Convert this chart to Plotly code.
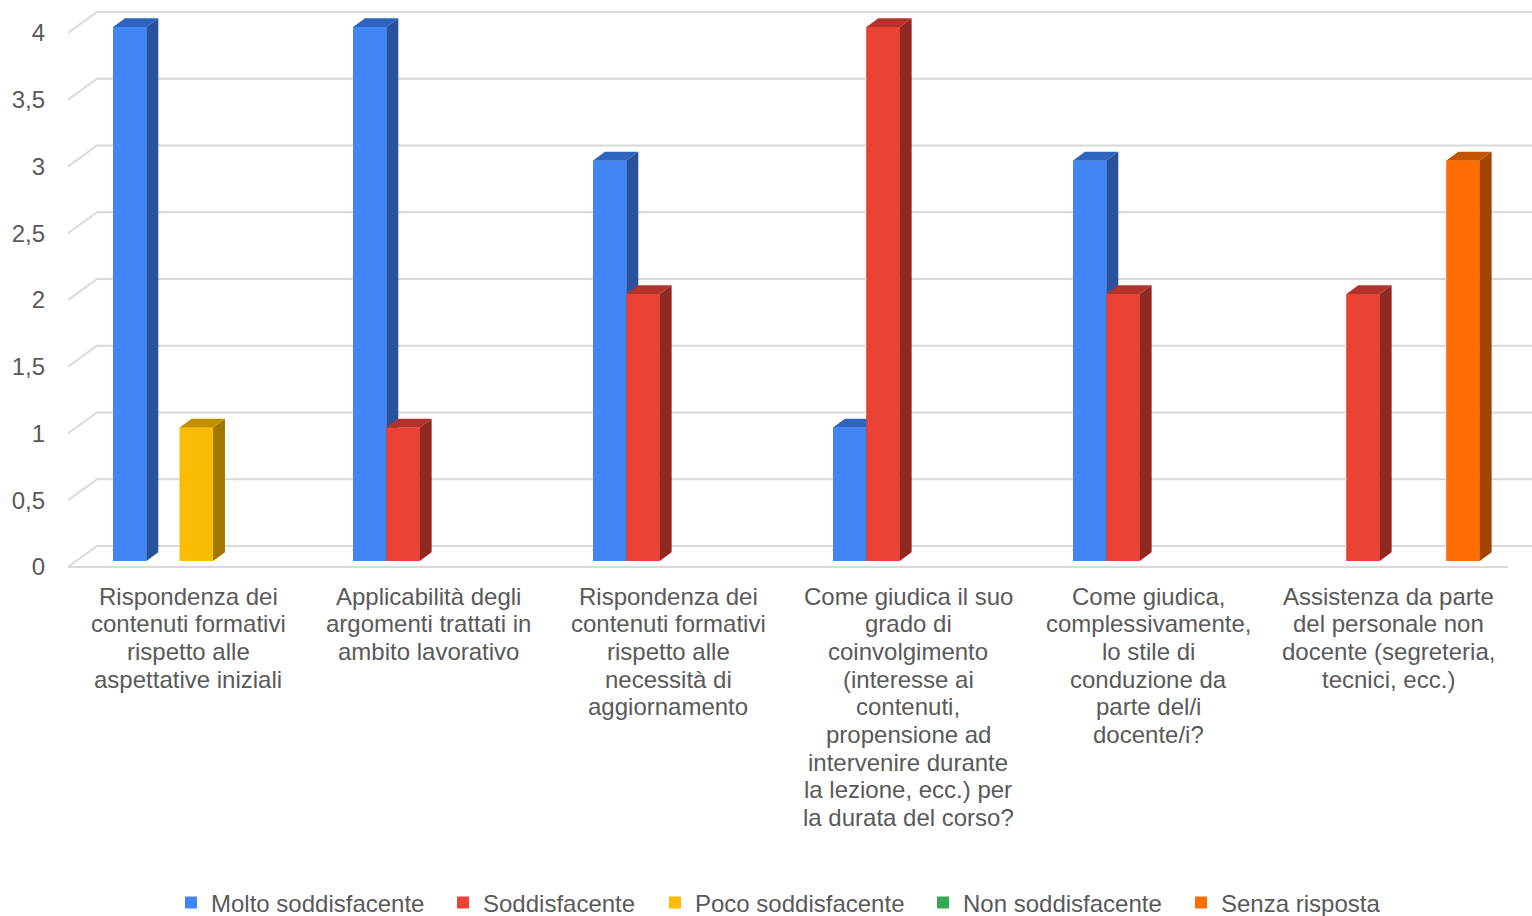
import plotly.graph_objects as go

# ---------------- data ----------------
categories = [
    "Rispondenza dei<br>contenuti formativi<br>rispetto alle<br>aspettative iniziali",
    "Applicabilità degli<br>argomenti trattati in<br>ambito lavorativo",
    "Rispondenza dei<br>contenuti formativi<br>rispetto alle<br>necessità di<br>aggiornamento",
    "Come giudica il suo<br>grado di<br>coinvolgimento<br>(interesse ai<br>contenuti,<br>propensione ad<br>intervenire durante<br>la lezione, ecc.) per<br>la durata del corso?",
    "Come giudica,<br>complessivamente,<br>lo stile di<br>conduzione da<br>parte del/i<br>docente/i?",
    "Assistenza da parte<br>del personale non<br>docente (segreteria,<br>tecnici, ecc.)",
]
series_names = ["Molto soddisfacente", "Soddisfacente", "Poco soddisfacente",
                "Non soddisfacente", "Senza risposta"]
molto = [4, 4, 3, 1, 3, 0]
soddisfacente = [0, 1, 2, 4, 2, 2]
poco = [1, 0, 0, 0, 0, 0]
non_sodd = [0, 0, 0, 0, 0, 0]
senza = [0, 0, 0, 0, 0, 3]
y_ticks = [0, 0.5, 1, 1.5, 2, 2.5, 3, 3.5, 4]

series_values = [molto, soddisfacente, poco, non_sodd, senza]

# ---------------- styles ----------------
front_colors = ["#4285F4", "#EA4335", "#FBBC04", "#34A853", "#FF6D01"]
top_colors = ["#2F63C0", "#B5322A", "#C29000", "#28823F", "#C45400"]
side_colors = ["#29529C", "#922822", "#A07800", "#1F6A33", "#A04500"]
TEXT = "#595959"
GRID = "#D9D9D9"
FONT = "Liberation Sans, Arial, sans-serif"

W_PX, H_PX = 1532, 916
LEFT = 68                 # plot left edge (px)
ZERO_PX = 567             # pixel row of value 0 on the front floor
PX_PER_CAT = 240.0
PX_PER_UNIT = 133.5
DEPTH_X = 29 / PX_PER_CAT          # full depth offset in data units
DEPTH_Y = 21 / PX_PER_UNIT
BAR_FRONT, BAR_BACK = 0.29, 0.70   # bar depth fraction
SLOT = 1 / 7.2                     # bar width in category units
LINE_H = 27.7                      # label line height (px)
FIRST_LINE = 29                    # px below zero row
LEGEND_TEXT_X = [212, 484, 696, 964, 1222]   # legend text start (px)
LEGEND_Y = 903

n = len(categories)
x_min = -0.5
x_max = x_min + (W_PX - LEFT) / PX_PER_CAT
y_min = -(H_PX - ZERO_PX) / PX_PER_UNIT
y_max = ZERO_PX / PX_PER_UNIT

fig = go.Figure()

# legend-bearing bars (front faces)
for j, (name, vals) in enumerate(zip(series_names, series_values)):
    off = -2.5 * SLOT + j * SLOT + BAR_FRONT * DEPTH_X
    fig.add_trace(go.Bar(
        x=list(range(n)), y=vals, base=BAR_FRONT * DEPTH_Y, offset=off, width=SLOT,
        name=name, marker=dict(color=front_colors[j], line=dict(width=0)),
        legend="legend" if j == 0 else f"legend{j + 1}",
        hoverinfo="skip"))

# gridlines (3D walls)
gx, gy = [], []
for t in y_ticks:
    gx += [x_min, x_min + DEPTH_X, x_max + 1, None]
    gy += [t, t + DEPTH_Y, t + DEPTH_Y, None]
gx += [x_min, n - 0.5, None]
gy += [0, 0, None]
fig.add_trace(go.Scatter(x=gx, y=gy, mode="lines", line=dict(color=GRID, width=2),
                         hoverinfo="skip", showlegend=False))

# 3D faces
ddx = (BAR_BACK - BAR_FRONT) * DEPTH_X
ddy = (BAR_BACK - BAR_FRONT) * DEPTH_Y
for j, vals in enumerate(series_values):
    fx, fy, sx, sy, tx, ty = [], [], [], [], [], []
    for i, v in enumerate(vals):
        if v <= 0:
            continue
        x0 = i - 2.5 * SLOT + j * SLOT + BAR_FRONT * DEPTH_X
        x1 = x0 + SLOT
        b = BAR_FRONT * DEPTH_Y
        fx += [x0, x1, x1, x0, x0, None]
        fy += [b, b, b + v, b + v, b, None]
        sx += [x1, x1 + ddx, x1 + ddx, x1, x1, None]
        sy += [b, b + ddy, b + ddy + v, b + v, b, None]
        tx += [x0, x1, x1 + ddx, x0 + ddx, x0, None]
        ty += [b + v, b + v, b + v + ddy, b + v + ddy, b + v, None]
    for xs, ys, col in ((fx, fy, front_colors[j]), (sx, sy, side_colors[j]), (tx, ty, top_colors[j])):
        if xs:
            fig.add_trace(go.Scatter(x=xs, y=ys, mode="lines", fill="toself", fillcolor=col,
                                     line=dict(width=0, color=col), hoverinfo="skip",
                                     showlegend=False))

# category labels
for i, cat in enumerate(categories):
    for k, line in enumerate(cat.split("<br>")):
        fig.add_annotation(x=i, y=-(FIRST_LINE + k * LINE_H) / PX_PER_UNIT, xref="x", yref="y",
                           text=line, showarrow=False, xanchor="center", yanchor="middle",
                           font=dict(family=FONT, size=24, color=TEXT))

legends = {}
for j, tx in enumerate(LEGEND_TEXT_X):
    key = "legend" if j == 0 else f"legend{j + 1}"
    legends[key] = dict(orientation="h", x=(tx - 41 - LEFT) / (W_PX - LEFT), xref="paper",
                        xanchor="left", y=1 - LEGEND_Y / H_PX, yref="paper", yanchor="middle",
                        font=dict(family=FONT, size=24, color=TEXT), itemclick=False,
                        bgcolor="rgba(0,0,0,0)")

fig.update_layout(
    width=W_PX, height=H_PX,
    margin=dict(l=LEFT, r=0, t=0, b=0, autoexpand=False),
    paper_bgcolor="white", plot_bgcolor="white",
    separators=",.",
    font=dict(family=FONT, color=TEXT, size=24),
    xaxis=dict(range=[x_min, x_max], showgrid=False, zeroline=False, showticklabels=False,
               showline=False, fixedrange=True),
    yaxis=dict(range=[y_min, y_max], showgrid=False, zeroline=False, tickvals=y_ticks,
               ticks="", ticklabelstandoff=22, showline=False,
               tickfont=dict(family=FONT, size=24, color=TEXT), fixedrange=True),
    showlegend=True,
    **legends,
)

fig.write_html("out.html", config={"displayModeBar": False},
               post_script="document.body.style.margin='0';document.body.style.overflow='hidden';")
